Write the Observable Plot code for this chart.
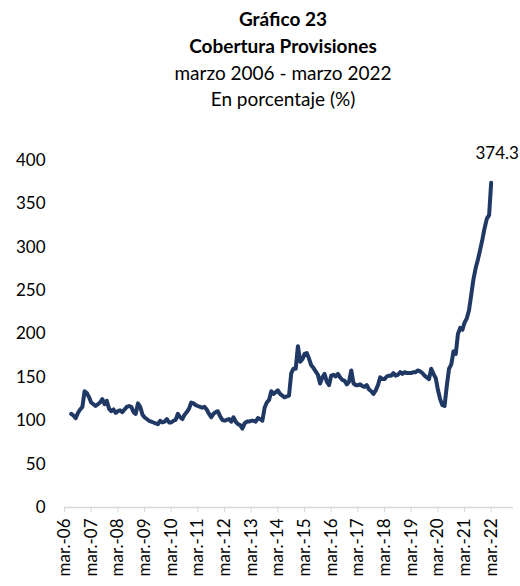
<!DOCTYPE html>
<html><head><meta charset="utf-8">
<script src="https://cdn.jsdelivr.net/npm/d3@7"></script>
<script src="https://cdn.jsdelivr.net/npm/@observablehq/plot@0.6"></script>
<style>
body{margin:0;background:#fff;font-family:Lato,"Open Sans",sans-serif;}
#title{height:112px;box-sizing:border-box;padding-top:6px;padding-left:46px;text-align:center;color:#000;font-size:19px;line-height:26.8px;}
#title .b{font-weight:bold;}
</style></head><body>
<div id="title">
<div class="b">Gráfico 23</div>
<div class="b">Cobertura Provisiones</div>
<div>marzo 2006 - marzo 2022</div>
<div>En porcentaje (%)</div>
</div>
<div id="chart"></div>
<script>
// Monthly series, first value = June 2006, last value = March 2022
const startMonth = "2006-06-01";
const values = [
  108,106,103,109,113,116,134,132,127,
  121,119,117,119,121,125,119,123,114,111,113,109,
  111,112,110,113,116,117,116,110,108,120,116,107,
  104,102,100,99,98,97,96,100,98,99,102,98,
  98,100,101,108,104,102,107,110,114,121,120,118,
  117,116,115,116,113,108,104,108,110,111,105,101,
  100,101,102,99,104,99,96,95,91,97,99,99,
  100,100,99,103,102,100,115,121,124,134,131,133,
  135,131,129,127,128,129,155,160,160,186,168,171,
  177,178,172,164,161,157,153,143,150,154,145,141,
  152,153,151,154,150,147,146,142,145,158,143,141,
  141,142,140,139,141,136,134,131,135,141,150,148,
  148,151,152,152,155,152,153,156,154,156,155,155,
  155,156,156,158,157,155,152,150,148,160,154,149,
  136,125,118,117,140,160,165,180,177,200,207,205,
  213,218,227,245,263,276,286,297,309,322,333,337,
  374.3
];
const tickLabels = ["mar.-06","mar.-07","mar.-08","mar.-09","mar.-10","mar.-11","mar.-12","mar.-13","mar.-14","mar.-15","mar.-16","mar.-17","mar.-18","mar.-19","mar.-20","mar.-21","mar.-22"];
const yTicks = [0,50,100,150,200,250,300,350,400];

const start = new Date(startMonth + "T00:00:00Z");
const data = values.map((v, i) => ({date: d3.utcMonth.offset(start, i), value: v}));
const tickDates = tickLabels.map(l => new Date(Date.UTC(2000 + +l.slice(-2), 2, 1)));
const labelByTime = new Map(tickDates.map((d, i) => [+d, tickLabels[i]]));
const last = data[data.length - 1];

const plot = Plot.plot({
  width: 520, height: 474,
  marginTop: 48, marginBottom: 79, marginLeft: 64, marginRight: 7,
  style: {fontFamily: "Lato, sans-serif", fontSize: "17px", color: "#000", background: "#fff", overflow: "visible"},
  x: {type: "utc", domain: [new Date(Date.UTC(2006, 2, 1)), new Date(Date.UTC(2023, 0, 1))]},
  y: {domain: [0, 400]},
  marks: [
    Plot.axisY({ticks: yTicks, tickSize: 0, tickPadding: 19, label: null, fontSize: 17}),
    Plot.ruleY([0], {stroke: "#d9d9d9", strokeWidth: 1.3}),
    Plot.axisX({ticks: tickDates, tickFormat: d => labelByTime.get(+d), tickRotate: -90, tickSize: 5, tickPadding: 6, stroke: "#d9d9d9", label: null, fontSize: 17}),
    Plot.line(data, {x: "date", y: "value", stroke: "#1f3864", strokeWidth: 4, strokeLinejoin: "round", strokeLinecap: "round"}),
    Plot.text([last], {x: "date", y: "value", text: d => d.value.toFixed(1), dy: -29, dx: 6, fontSize: 17, fill: "#000"})
  ]
});
document.getElementById("chart").appendChild(plot);
</script>
</body></html>
